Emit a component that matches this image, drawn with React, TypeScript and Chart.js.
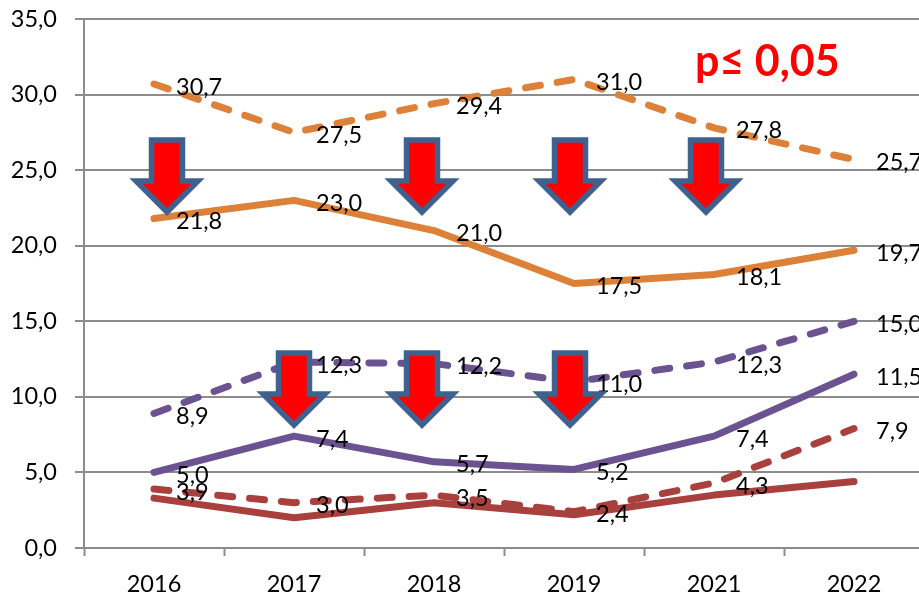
import React, { useEffect, useRef } from "react";
import { Chart, registerables } from "chart.js";

Chart.register(...registerables);

const years = ["2016", "2017", "2018", "2019", "2021", "2022"];
const orangeDashed = [30.7, 27.5, 29.4, 31.0, 27.8, 25.7];
const orangeSolid = [21.8, 23.0, 21.0, 17.5, 18.1, 19.7];
const purpleDashed = [8.9, 12.3, 12.2, 11.0, 12.3, 15.0];
const purpleSolid = [5.0, 7.4, 5.7, 5.2, 7.4, 11.5];
const redDashed = [3.9, 3.0, 3.5, 2.4, 4.3, 7.9];
const redSolid = [3.3, 2.0, 3.0, 2.2, 3.5, 4.4];

const ORANGE = "#DD8139";
const PURPLE = "#6B5391";
const RED = "#A8413D";
const GRID = "#8C8C8C";
const FONT = "Lato, sans-serif";
const DASH = [15, 17];

// annotation arrows: centre x and top y of each block arrow
const arrowCentres = [167, 422, 570, 706, 294, 422, 570];
const arrowTops = [140, 140, 140, 140, 353, 353, 353];

const fmt = (v: number) => v.toFixed(1).replace(".", ",");

const annotations = {
  id: "annotations",
  afterDatasetsDraw(chart: any) {
    const { ctx } = chart;
    ctx.save();
    // data labels
    ctx.font = `23.5px ${FONT}`;
    ctx.fillStyle = "#000";
    ctx.textAlign = "left";
    ctx.textBaseline = "middle";
    chart.data.datasets.forEach((ds: any, i: number) => {
      if (ds.noLabels) return;
      const meta = chart.getDatasetMeta(i);
      meta.data.forEach((pt: any, j: number) => {
        ctx.fillText(fmt(ds.data[j]), pt.x + 22, pt.y + 3);
      });
    });
    // arrows
    arrowCentres.forEach((cx, i) => {
      const top = arrowTops[i];
      ctx.beginPath();
      ctx.moveTo(cx - 15.5, top);
      ctx.lineTo(cx + 15.5, top);
      ctx.lineTo(cx + 15.5, top + 41);
      ctx.lineTo(cx + 31, top + 41);
      ctx.lineTo(cx, top + 72);
      ctx.lineTo(cx - 31, top + 41);
      ctx.lineTo(cx - 15.5, top + 41);
      ctx.closePath();
      ctx.fillStyle = "#FF0000";
      ctx.strokeStyle = "#3E6190";
      ctx.lineWidth = 5.5;
      ctx.lineJoin = "miter";
      ctx.miterLimit = 10;
      ctx.fill();
      ctx.stroke();
    });
    // significance note
    ctx.font = `bold 43px ${FONT}`;
    ctx.fillStyle = "#FF0000";
    ctx.textBaseline = "alphabetic";
    ctx.fillText("p≤ 0,05", 695, 76);
    ctx.restore();
  },
};

export default function App() {
  const ref = useRef<HTMLCanvasElement>(null);
  useEffect(() => {
    document.body.style.margin = "0";
    document.body.style.overflow = "hidden";
    const line = (data: number[], color: string, dashed: boolean, noLabels = false) => ({
      data,
      borderColor: color,
      backgroundColor: color,
      borderWidth: 7,
      borderDash: dashed ? DASH : [],
      borderCapStyle: "round" as const,
      borderJoinStyle: "round" as const,
      pointRadius: 0,
      tension: 0,
      clip: false as const,
      noLabels,
    });
    const chart = new Chart(ref.current!, {
      type: "line",
      data: {
        labels: years,
        datasets: [
          line(redSolid, RED, false, true),
          line(redDashed, RED, true),
          line(purpleSolid, PURPLE, false),
          line(purpleDashed, PURPLE, true),
          line(orangeSolid, ORANGE, false),
          line(orangeDashed, ORANGE, true),
        ] as any,
      },
      options: {
        animation: false,
        responsive: false,
        layout: { padding: { top: 19, right: 6, left: 0, bottom: 0 } },
        plugins: { legend: { display: false }, title: { display: false }, tooltip: { enabled: false } },
        scales: {
          x: {
            type: "category",
            offset: true,
            grid: {
              offset: true,
              drawOnChartArea: false,
              drawTicks: true,
              tickLength: 8,
              tickWidth: 2,
              tickColor: GRID,
            },
            border: { color: GRID, width: 2 },
            ticks: {
              color: "#000",
              font: { family: FONT, size: 23.5 },
              padding: 14,
              maxRotation: 0,
              autoSkip: false,
            },
            afterFit(s: any) {
              s.height = 46;
              s.paddingLeft = 0;
              s.paddingRight = 0;
            },
          },
          y: {
            min: 0,
            max: 35,
            grid: { color: GRID, lineWidth: 2, tickLength: 9, tickColor: GRID },
            border: { color: GRID, width: 2 },
            ticks: {
              stepSize: 5,
              color: "#000",
              font: { family: FONT, size: 23.5 },
              padding: 18,
              callback: (v: any) => fmt(Number(v)),
            },
            afterFit(s: any) {
              s.width = 84;
              s.paddingTop = 0;
              s.paddingBottom = 0;
            },
          },
        },
      },
      plugins: [annotations],
    });
    return () => chart.destroy();
  }, []);
  return (
    <div style={{ position: "absolute", left: 0, top: 0, width: 919, height: 594, overflow: "hidden", background: "#fff" }}>
      <canvas ref={ref} width={930} height={594} style={{ display: "block" }} />
    </div>
  );
}
